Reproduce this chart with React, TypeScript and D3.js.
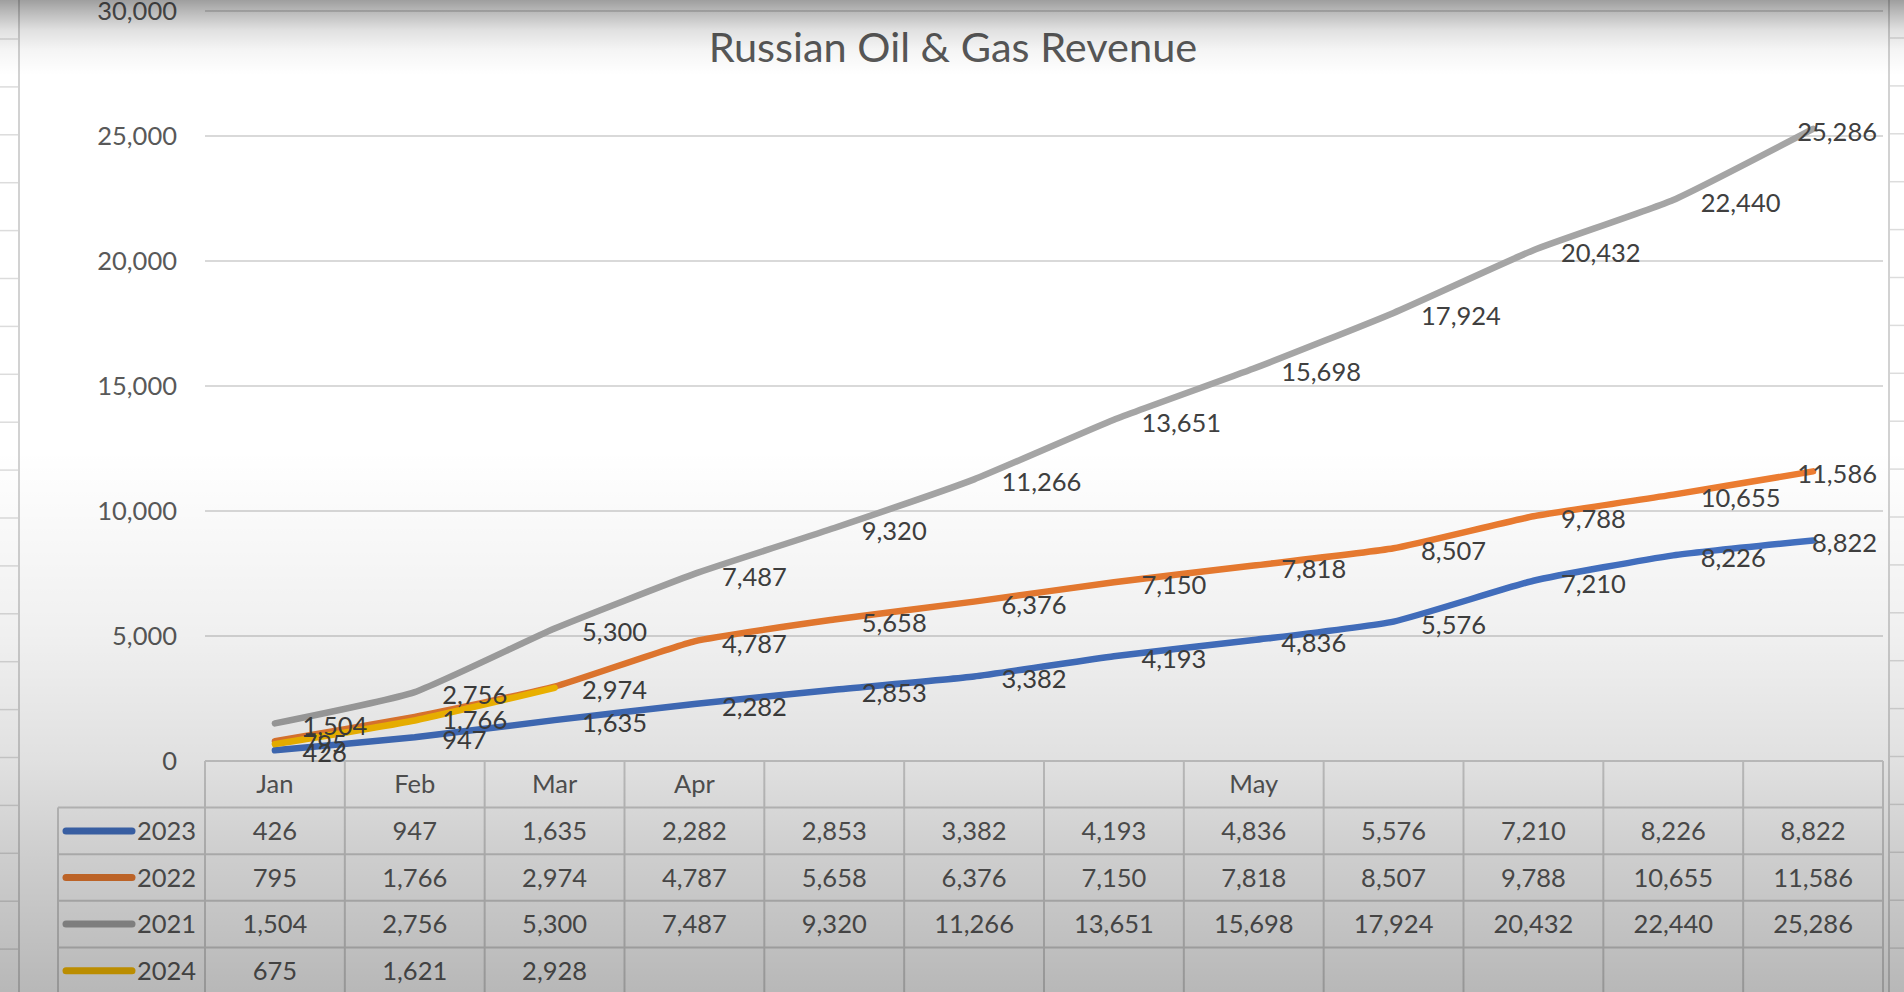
import React from 'react';
import * as d3 from 'd3';

const title = 'Russian Oil & Gas Revenue';
const categories = ['Jan', 'Feb', 'Mar', 'Apr', '', '', '', 'May', '', '', '', ''];
const series2023 = [426, 947, 1635, 2282, 2853, 3382, 4193, 4836, 5576, 7210, 8226, 8822];
const series2022 = [795, 1766, 2974, 4787, 5658, 6376, 7150, 7818, 8507, 9788, 10655, 11586];
const series2021 = [1504, 2756, 5300, 7487, 9320, 11266, 13651, 15698, 17924, 20432, 22440, 25286];
const series2024 = [675, 1621, 2928];
const seriesNames = ['2023', '2022', '2021', '2024'];
const seriesValues = [series2023, series2022, series2021, series2024];
const seriesColors = ['#4472C4', '#ED7D31', '#A5A5A5', '#FFC000'];
const seriesHasLabels = [true, true, true, false];
const yTicks = [0, 5000, 10000, 15000, 20000, 25000, 30000];

const W = 1904;
const H = 992;
const FONT = 'Lato, "Open Sans", sans-serif';
const FS = 25.5;

let measureCtx: CanvasRenderingContext2D | null = null;
function textWidth(t: string, size: number) {
  if (!measureCtx) {
    const c = document.createElement('canvas');
    measureCtx = c.getContext('2d');
  }
  if (!measureCtx) return t.length * size * 0.55;
  measureCtx.font = `${size}px Lato`;
  return measureCtx.measureText(t).width;
}

export default function App() {
  const plotL = 205;
  const plotR = 1883;
  const x = d3.scaleBand<number>().domain(d3.range(categories.length)).range([plotL, plotR]);
  const bw = x.bandwidth();
  const cx = (i: number) => (x(i) as number) + bw / 2;
  const y = d3.scaleLinear().domain([0, 30000]).range([761, 11]);
  const fmt = d3.format(',');

  const line = d3
    .line<number>()
    .x((_, i) => cx(i))
    .y((d) => y(d))
    .curve(d3.curveCardinal.tension(0.55));

  const headerTop = y(0);
  const rowH = 46.6;
  const headerBottom = headerTop + rowH;
  const legendL = 58;
  const rowTop = (r: number) => headerBottom + r * rowH;

  const stripLines = d3.range(0, 20).map((k) => 39 + k * 47.9);
  const labelRight = 1877;

  return (
    <svg
      width={W}
      height={H}
      style={{ position: 'absolute', left: 0, top: 0, display: 'block', background: '#ffffff' }}
      fontFamily={FONT}
    >
      <defs>
        <linearGradient id="vignette" gradientUnits="userSpaceOnUse" x1={0} y1={0} x2={0} y2={H}>
          <stop offset={0} stopColor="#000" stopOpacity={0.38} />
          <stop offset={12 / H} stopColor="#000" stopOpacity={0.27} />
          <stop offset={30 / H} stopColor="#000" stopOpacity={0.12} />
          <stop offset={50 / H} stopColor="#000" stopOpacity={0.04} />
          <stop offset={75 / H} stopColor="#000" stopOpacity={0} />
          <stop offset={450 / H} stopColor="#000" stopOpacity={0} />
          <stop offset={635 / H} stopColor="#000" stopOpacity={0.06} />
          <stop offset={761 / H} stopColor="#000" stopOpacity={0.12} />
          <stop offset={850 / H} stopColor="#000" stopOpacity={0.19} />
          <stop offset={1} stopColor="#000" stopOpacity={0.28} />
        </linearGradient>
      </defs>
      <rect x={0} y={0} width={W} height={H} fill="#ffffff" />

      {/* spreadsheet strips */}
      <line x1={19} x2={19} y1={0} y2={H} stroke="#d2d2d2" strokeWidth={2} />
      {stripLines.map((yy, k) => (
        <line key={'ls' + k} x1={0} x2={18} y1={yy} y2={yy} stroke="#dcdcdc" strokeWidth={1.5} />
      ))}
      <line x1={1889} x2={1889} y1={0} y2={H} stroke="#d2d2d2" strokeWidth={2} />
      {stripLines.map((yy, k) => (
        <line key={'rs' + k} x1={1890} x2={W} y1={yy - 1} y2={yy - 1} stroke="#dcdcdc" strokeWidth={1.5} />
      ))}

      {/* title */}
      <text x={953} y={62} textAnchor="middle" fontSize={41.5} fill="#595959">
        {title}
      </text>

      {/* gridlines and y labels */}
      {yTicks.map((t) => (
        <g key={'g' + t}>
          {t > 0 && <line x1={plotL} x2={plotR} y1={y(t)} y2={y(t)} stroke="#d9d9d9" strokeWidth={2} />}
          <text x={177} y={y(t) + 9} textAnchor="end" fontSize={FS} fill="#595959">
            {fmt(t)}
          </text>
        </g>
      ))}

      {/* data table */}
      <g stroke="#d0d0d0" strokeWidth={2} fill="none">
        <line x1={plotL} x2={plotR} y1={headerTop} y2={headerTop} />
        <line x1={legendL} x2={plotR} y1={headerBottom} y2={headerBottom} />
        {seriesNames.map((_, r) => (
          <line key={'rb' + r} x1={legendL} x2={plotR} y1={rowTop(r + 1)} y2={rowTop(r + 1)} />
        ))}
        <line x1={legendL} x2={legendL} y1={headerBottom} y2={H} />
        {d3.range(categories.length + 1).map((i) => (
          <line key={'cb' + i} x1={plotL + i * bw} x2={plotL + i * bw} y1={headerTop} y2={H} />
        ))}
      </g>
      {categories.map((c, i) => (
        <text key={'cat' + i} x={cx(i)} y={(headerTop + headerBottom) / 2 + 9} textAnchor="middle" fontSize={FS} fill="#595959">
          {c}
        </text>
      ))}
      {seriesNames.map((name, r) => {
        const mid = rowTop(r) + rowH / 2;
        return (
          <g key={'row' + name}>
            <line x1={66} x2={132} y1={mid} y2={mid} stroke={seriesColors[r]} strokeWidth={7} strokeLinecap="round" />
            <text x={137} y={mid + 9} fontSize={FS} fill="#595959">
              {name}
            </text>
            {seriesValues[r].map((v, i) => (
              <text key={i} x={cx(i)} y={mid + 9} textAnchor="middle" fontSize={FS} fill="#595959">
                {fmt(v)}
              </text>
            ))}
          </g>
        );
      })}

      {/* lines */}
      {seriesValues.map((vals, s) => (
        <path
          key={'line' + s}
          d={line(vals) || ''}
          fill="none"
          stroke={seriesColors[s]}
          strokeWidth={6.5}
          strokeLinecap="round"
          strokeLinejoin="round"
        />
      ))}

      {/* data labels */}
      {seriesValues.map((vals, s) =>
        seriesHasLabels[s]
          ? vals.map((v, i) => {
              const t = fmt(v);
              const w = textWidth(t, FS);
              let lx = cx(i) + 27.5;
              if (lx + w > labelRight) lx = labelRight - w;
              return (
                <text key={'dl' + s + '-' + i} x={lx} y={y(v) + 12} fontSize={FS} fill="#404040">
                  {t}
                </text>
              );
            })
          : null
      )}

      {/* video vignette */}
      <rect x={0} y={0} width={W} height={H} fill="url(#vignette)" pointerEvents="none" />
    </svg>
  );
}
